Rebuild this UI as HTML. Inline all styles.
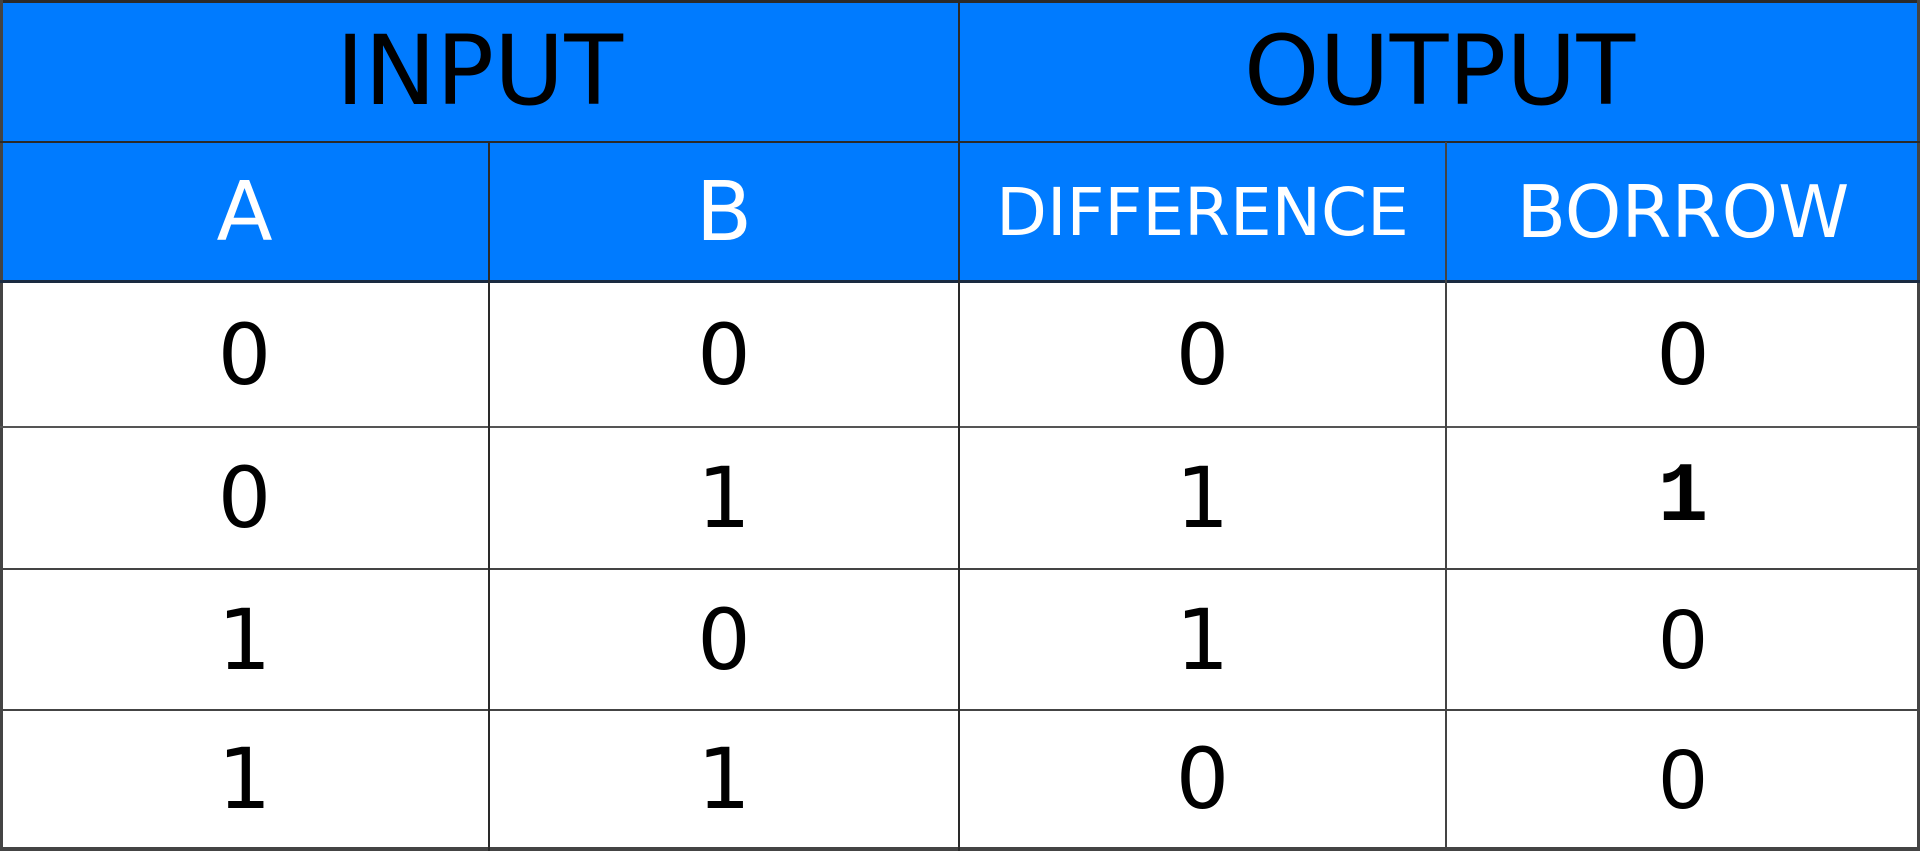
<!DOCTYPE html>
<html><head><meta charset="utf-8"><style>
body{margin:0;width:1920px;height:851px;background:#fff;position:relative;overflow:hidden;font-family:"DejaVu Sans","Liberation Sans",sans-serif}
.c{position:absolute;display:flex;align-items:center;justify-content:center;box-sizing:border-box}
.h{background:#007bff}
.l{position:absolute;background:#2a2a2a}
</style></head><body>
<div class="c h" style="left:0;top:0;width:959px;height:142px;font-size:96px;color:#000">INPUT</div>
<div class="c h" style="left:959px;top:0;width:961px;height:142px;font-size:96px;color:#000">OUTPUT</div>
<div class="c h" style="left:0;top:142px;width:489px;height:140px;font-size:82px;color:#fff">A</div>
<div class="c h" style="left:489px;top:142px;width:470px;height:140px;font-size:82px;color:#fff">B</div>
<div class="c h" style="left:959px;top:142px;width:487px;height:140px;font-size:66px;color:#fff">DIFFERENCE</div>
<div class="c h" style="left:1446px;top:142px;width:474px;height:140px;font-size:72px;color:#fff">BORROW</div>
<div id="rows"></div>
<div class="l" style="left:0;top:0;width:1920px;height:3px"></div>
<div class="l" style="left:0;top:847px;width:1920px;height:4px;background:#444"></div>
<div class="l" style="left:0;top:0;width:3px;height:851px;background:#444"></div>
<div class="l" style="left:1917px;top:0;width:3px;height:851px;background:#444"></div>
<div class="l" style="left:0;top:141px;width:1920px;height:2px"></div>
<div class="l" style="left:0;top:280px;width:1920px;height:3px;background:#1a2a40"></div>
<div class="l" style="left:0;top:426px;width:1920px;height:2px;background:#555"></div>
<div class="l" style="left:0;top:568px;width:1920px;height:2px;background:#444"></div>
<div class="l" style="left:0;top:709px;width:1920px;height:2px;background:#444"></div>
<div class="l" style="left:488px;top:142px;width:2px;height:709px"></div>
<div class="l" style="left:958px;top:0;width:2px;height:851px"></div>
<div class="l" style="left:1445px;top:142px;width:2px;height:709px;background:#444"></div>
<script>
const colA=[0,0,1,1];
const colB=[0,1,0,1];
const colDiff=[0,1,1,0];
const colBorrow=[0,1,0,0];
const cols=[[0,489,colA,'a'],[489,470,colB,'b'],[959,487,colDiff,'difference'],[1446,474,colBorrow,'borrow']];
const tops=[282,427,569,710],hs=[145,142,141,138];
const root=document.getElementById('rows');
cols.forEach(([x,w,arr,n])=>{arr.forEach((v,i)=>{
const d=document.createElement('div');d.className='c';


let ff='';
if(n==='borrow'&&i>0){ff=v===1?'font-family:"Liberation Mono",monospace;font-weight:bold;':'font-family:"Liberation Sans",sans-serif;';}
d.style.cssText=`left:${x}px;top:${tops[i]}px;width:${w}px;height:${hs[i]}px;font-size:84px;color:#000;`+ff;
d.textContent=v;root.appendChild(d);});});
</script>
</body></html>
